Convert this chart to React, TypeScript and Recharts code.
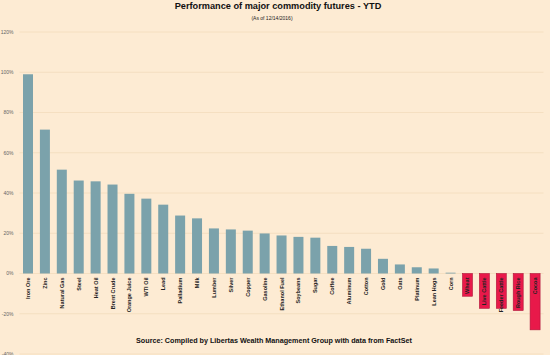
import React from "react";
import { BarChart, Bar, XAxis, YAxis, CartesianGrid, Cell } from "recharts";

const categories = [
  "Iron Ore", "Zinc", "Natural Gas", "Steel", "Heat Oil", "Brent Crude", "Orange Juice",
  "WTI Oil", "Lead", "Palladium", "Milk", "Lumber", "Silver", "Copper", "Gasoline",
  "Ethanol Fuel", "Soybeans", "Sugar", "Coffee", "Aluminum", "Cotton", "Gold", "Oats",
  "Platinum", "Lean Hogs", "Corn", "Wheat", "Live Cattle", "Feeder Cattle", "Rough Rice", "Cocoa",
];
const ytdValues = [
  99, 71.5, 51.6, 46.2, 45.8, 44.2, 39.6, 37.2, 34.2, 28.8, 27.4, 22.4, 21.9, 21.3, 19.9,
  18.9, 18.2, 17.8, 13.7, 13.2, 12.3, 7.3, 4.5, 3.1, 2.5, 0.4, -11.3, -17.3, -17.3, -18.4, -28,
];
const yTicks = [-40, -20, 0, 20, 40, 60, 80, 100, 120];

const titleText = "Performance of major commodity futures - YTD";
const subtitleText = "(As of 12/14/2016)";
const sourceText = "Source:  Compiled by Libertas Wealth Management Group with data from FactSet";

const data = categories.map((name, i) => ({ name, value: ytdValues[i] }));

const POS = "#7ba2ab";
const NEG = "#e8194a";

const BarWithLabel = (props: any) => {
  const { x, y, width, height, payload } = props;
  const top = Math.min(y, y + height);
  const bottom = Math.max(y, y + height);
  const h = bottom - top;
  const neg = payload.value < 0;
  const zeroY = neg ? top : bottom;
  const cx = x + width / 2;
  const ly = zeroY + 4;
  return (
    <g>
      <rect
        x={x}
        y={top}
        width={width}
        height={h}
        fill={neg ? NEG : POS}
        stroke={neg ? "#b0163a" : "none"}
        strokeWidth={neg ? 0.6 : 0}
      />
      <text
        x={cx + 2}
        y={ly}
        transform={`rotate(-90 ${cx + 2} ${ly})`}
        textAnchor="end"
        fontFamily="Liberation Sans, Arial, sans-serif"
        fontWeight="bold"
        fontSize={5.5}
        fill="#222"
      >
        {payload.name}
      </text>
    </g>
  );
};

export default function App() {
  return (
    <div style={{ position: "absolute", left: 0, top: 0, width: 550, height: 355, background: "#fdebd3", overflow: "hidden" }}>
      <BarChart
        width={550}
        height={355}
        data={data}
        margin={{ top: 32, right: 6.5, bottom: 1, left: 0 }}
        barCategoryGap={3.5}
      >
        <CartesianGrid vertical={false} stroke="#f3dcbd" strokeWidth={0.8} />
        <XAxis dataKey="name" hide />
        <YAxis
          domain={[-40, 120]}
          ticks={yTicks}
          width={19.5}
          axisLine={false}
          tickLine={false}
          tickSize={0}
          tickMargin={6}
          interval={0}
          tickFormatter={(v: number) => `${v}%`}
          tick={{ fontSize: 5, fill: "#666", fontFamily: "Liberation Sans, Arial, sans-serif" }}
        />
        <Bar dataKey="value" isAnimationActive={false} shape={BarWithLabel}>
          {data.map((d, i) => (
            <Cell key={i} fill={d.value < 0 ? NEG : POS} />
          ))}
        </Bar>
        <text
          x={278}
          y={9}
          textAnchor="middle"
          fontFamily="Liberation Sans, Arial, sans-serif"
          fontWeight="bold"
          fontSize={9.2}
          fill="#111"
        >
          {titleText}
        </text>
        <text
          x={272}
          y={20}
          textAnchor="middle"
          fontFamily="Liberation Sans, Arial, sans-serif"
          fontSize={5}
          fill="#222"
        >
          {subtitleText}
        </text>
        <text
          x={274}
          y={343}
          textAnchor="middle"
          fontFamily="Liberation Sans, Arial, sans-serif"
          fontWeight="bold"
          fontSize={7.2}
          fill="#111"
        >
          {sourceText}
        </text>
      </BarChart>
    </div>
  );
}
